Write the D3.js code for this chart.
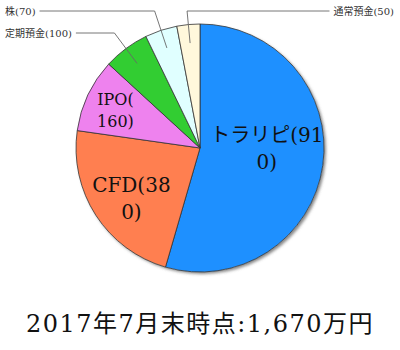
<!DOCTYPE html>
<head>
  <meta charset="utf-8">
  <script src="https://d3js.org/d3.v7.min.js"></script>
  <style>
    body { margin: 0; background: #fff; }
  </style>
</head>
<body>
<svg width="400" height="350"></svg>
<script>

  // data
  let names = ["トラリピ", "CFD", "IPO", "定期預金", "株", "通常預金"],
    values = [910, 380, 160, 100, 70, 50],
    colors = ["#1e90ff", "#ff7f50", "#ee82ee", "#32cd32", "#e0ffff", "#fff8dc"],
    wrapAt = [7, 6, 4, 0, 0, 0],
    title = "2017年7月末時点:1,670万円";

  let svg = d3.select("svg"),
    cx = 200, cy = 148, radius = 124,
    serif = "'DejaVu Serif', 'Noto Sans CJK JP', serif";

  let total = d3.sum(values);
  let rows = names.map((n, i) => ({name: n, value: values[i], color: colors[i], wrap: wrapAt[i]}));

  let pie = d3.pie().sort(null).value(d => d.value);
  let arcs = pie(rows);
  let arc = d3.arc().innerRadius(0).outerRadius(radius);

  let defs = svg.append("defs");
  let f = defs.append("filter").attr("id", "shadow")
    .attr("x", "-10%").attr("y", "-10%").attr("width", "130%").attr("height", "130%");
  f.append("feDropShadow").attr("dx", 2).attr("dy", 2).attr("stdDeviation", 1.8)
    .attr("flood-color", "#555").attr("flood-opacity", 0.7);

  let g = svg.append("g").attr("transform", `translate(${cx},${cy})`);

  g.append("circle").attr("r", radius).attr("fill", "#fff").attr("filter", "url(#shadow)");

  g.selectAll("path.slice")
    .data(arcs)
    .enter().append("path")
    .attr("class", "slice")
    .attr("d", arc)
    .attr("fill", d => d.data.color)
    .attr("stroke", "#333")
    .attr("stroke-width", 0.8);

  function dir(d, t) {
    let a = d.startAngle + (d.endAngle - d.startAngle) * (t == null ? 0.5 : t);
    return [Math.sin(a), -Math.cos(a)];
  }

  // inside labels
  arcs.filter(d => d.data.value / total >= 0.08).forEach(d => {
    let frac = d.data.value / total,
      r = radius * (0.79 - 0.46 * frac),
      v = dir(d, 0.46),
      fs = frac > 0.15 ? 20 : 16,
      txt = d.data.name + "(" + d.data.value + ")",
      lines = [txt.slice(0, d.data.wrap), txt.slice(d.data.wrap)],
      lh = fs * 1.35;
    let t = g.append("text")
      .attr("text-anchor", "middle")
      .attr("font-family", serif)
      .attr("font-size", fs)
      .attr("fill", "#111");
    lines.forEach((l, i) => {
      t.append("tspan")
        .attr("x", v[0] * r)
        .attr("y", v[1] * r + (i - (lines.length - 1) / 2) * lh + fs * 0.36)
        .text(l);
    });
  });

  // outside labels with leader lines
  let outside = arcs.filter(d => d.data.value / total < 0.08);
  let left = outside.filter(d => dir(d)[0] < -0.2).sort((a, b) => b.startAngle - a.startAngle),
    right = outside.filter(d => dir(d)[0] >= -0.2);

  function leader(d, row, side) {
    let v = dir(d),
      ly = 11 + row * 22,
      p0 = [cx + v[0] * radius * 0.85, cy + v[1] * radius * 0.85],
      k = (ly - p0[1]) / v[1],
      p1 = [p0[0] + v[0] * k, ly];
    let t = svg.append("text")
      .attr("font-family", serif)
      .attr("font-size", 10)
      .attr("fill", "#333")
      .attr("y", ly + 3.5)
      .text(d.data.name + "(" + d.data.value + ")");
    let end;
    if (side === "left") {
      t.attr("x", 5);
      end = 5 + t.node().getComputedTextLength() + 4;
    } else {
      t.attr("x", 394).attr("text-anchor", "end");
      end = 394 - t.node().getComputedTextLength() - 4;
    }
    svg.append("polyline")
      .attr("points", [p0, p1, [end, ly]].map(p => p.join(",")).join(" "))
      .attr("fill", "none")
      .attr("stroke", "#666")
      .attr("stroke-width", 0.9);
  }

  left.forEach((d, i) => leader(d, i, "left"));
  right.forEach((d, i) => leader(d, i, "right"));

  svg.append("text")
    .attr("x", 200)
    .attr("y", 332)
    .attr("text-anchor", "middle")
    .attr("font-family", serif)
    .attr("font-size", 24)
    .attr("letter-spacing", 1.5)
    .attr("fill", "#111")
    .text(title);

</script>
</body>
